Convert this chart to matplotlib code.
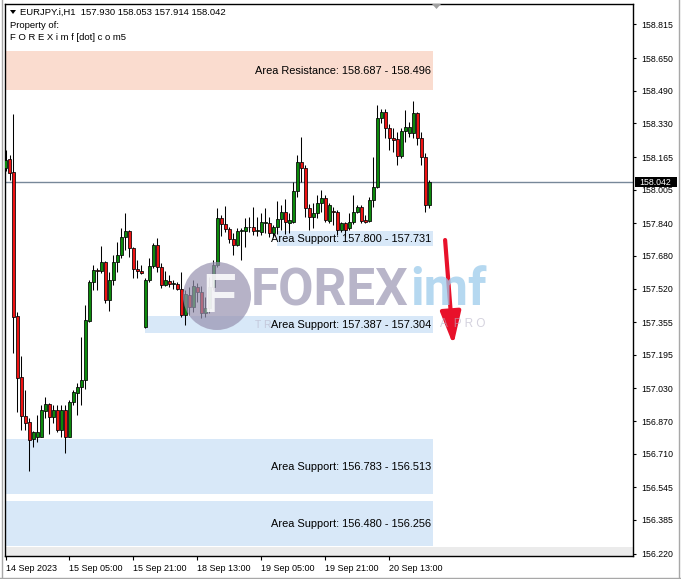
import matplotlib
matplotlib.use("Agg")
import matplotlib.pyplot as plt
from matplotlib.patches import Rectangle, Circle, Polygon
from matplotlib.transforms import Affine2D
import numpy as np

# ---------------- data ----------------
symbol_title = "EURJPY.i,H1  157.930 158.053 157.914 158.042"
prop_line1 = "Property of:"
prop_line2 = "F O R E X i m f [dot] c o m5"

opens = [158.110, 158.154, 158.093, 157.385, 157.088, 156.895, 156.867, 156.781, 156.793, 156.793,
         156.921, 156.954, 156.891, 156.924, 156.826, 156.924, 156.793, 156.965, 157.009, 157.036,
         157.071, 157.362, 157.553, 157.611, 157.608, 157.652, 157.464, 157.562, 157.650, 157.684,
         157.771, 157.802, 157.717, 157.616, 157.607, 157.330, 157.562, 157.630, 157.733, 157.624,
         157.537, 157.559, 157.544, 157.542, 157.516, 157.390, 157.488, 157.428, 157.526, 157.504,
         157.398, 157.423, 157.526, 157.635, 157.864, 157.836, 157.810, 157.763, 157.732, 157.804,
         157.804, 157.820, 157.820, 157.804, 157.799, 157.840, 157.840, 157.791, 157.820, 157.860,
         157.897, 157.840, 157.848, 157.998, 158.142, 158.110, 157.913, 157.869, 157.889, 157.938,
         157.963, 157.851, 157.900, 157.897, 157.807, 157.840, 157.815, 157.845, 157.897, 157.921,
         157.855, 157.851, 157.954, 158.019, 158.358, 158.384, 158.306, 158.260, 158.253, 158.171,
         158.293, 158.281, 158.281, 158.379, 158.257, 158.166, 157.930]
highs = [158.199, 158.175, 158.376, 157.406, 157.189, 157.022, 156.885, 156.823, 156.900, 156.949,
         156.989, 156.957, 156.949, 156.949, 156.949, 156.949, 156.973, 157.022, 157.058, 157.284,
         157.439, 157.562, 157.635, 157.620, 157.729, 157.655, 157.602, 157.684, 157.750, 157.815,
         157.889, 157.805, 157.725, 157.660, 157.635, 157.570, 157.668, 157.745, 157.766, 157.644,
         157.607, 157.586, 157.562, 157.553, 157.602, 157.513, 157.529, 157.562, 157.546, 157.532,
         157.480, 157.578, 157.660, 157.913, 157.881, 157.925, 157.823, 157.791, 157.815, 157.817,
         157.864, 157.869, 157.918, 157.869, 157.889, 157.913, 157.872, 157.831, 157.951, 157.930,
         157.958, 157.889, 158.044, 158.175, 158.265, 158.126, 157.935, 157.938, 157.979, 158.003,
         157.979, 157.938, 157.921, 157.905, 157.845, 157.848, 157.889, 157.979, 157.930, 157.930,
         157.881, 157.970, 158.166, 158.420, 158.400, 158.400, 158.325, 158.306, 158.289, 158.306,
         158.396, 158.335, 158.440, 158.387, 158.289, 158.183, 158.053]
lows = [158.096, 158.052, 157.204, 156.916, 156.826, 156.826, 156.627, 156.744, 156.769, 156.790,
        156.885, 156.806, 156.862, 156.818, 156.792, 156.712, 156.790, 156.949, 156.900, 156.949,
        157.026, 157.357, 157.513, 157.513, 157.595, 157.450, 157.411, 157.537, 157.602, 157.668,
        157.709, 157.676, 157.570, 157.570, 157.591, 157.326, 157.553, 157.619, 157.602, 157.521,
        157.532, 157.529, 157.516, 157.513, 157.382, 157.341, 157.390, 157.406, 157.455, 157.374,
        157.382, 157.398, 157.515, 157.626, 157.778, 157.799, 157.742, 157.684, 157.728, 157.660,
        157.725, 157.799, 157.782, 157.778, 157.782, 157.791, 157.774, 157.774, 157.787, 157.807,
        157.787, 157.791, 157.842, 157.970, 158.044, 157.869, 157.807, 157.815, 157.864, 157.897,
        157.848, 157.840, 157.832, 157.782, 157.799, 157.774, 157.807, 157.835, 157.889, 157.840,
        157.840, 157.848, 157.921, 158.012, 158.330, 158.257, 158.199, 158.188, 158.126, 158.159,
        158.237, 158.262, 158.260, 158.224, 158.126, 157.897, 157.914]
closes = [158.150, 158.088, 157.382, 157.081, 156.895, 156.862, 156.777, 156.816, 156.816, 156.924,
          156.954, 156.891, 156.924, 156.826, 156.924, 156.793, 156.965, 157.011, 157.039, 157.071,
          157.366, 157.553, 157.611, 157.608, 157.652, 157.464, 157.562, 157.650, 157.684, 157.771,
          157.802, 157.717, 157.616, 157.607, 157.598, 157.562, 157.630, 157.733, 157.624, 157.537,
          157.562, 157.541, 157.548, 157.516, 157.390, 157.492, 157.428, 157.532, 157.504, 157.398,
          157.423, 157.526, 157.635, 157.864, 157.836, 157.810, 157.763, 157.732, 157.804, 157.806,
          157.820, 157.822, 157.804, 157.806, 157.846, 157.846, 157.791, 157.823, 157.860, 157.897,
          157.848, 157.856, 157.998, 158.142, 158.110, 157.913, 157.869, 157.889, 157.938, 157.963,
          157.856, 157.930, 157.894, 157.807, 157.840, 157.807, 157.848, 157.897, 157.921, 157.851,
          157.848, 157.954, 158.019, 158.358, 158.384, 158.306, 158.257, 158.248, 158.171, 158.293,
          158.314, 158.314, 158.379, 158.257, 158.166, 157.930, 158.042]

time_tick_bars = [0, 16, 32, 48, 64, 80, 96]
time_tick_labels = ["14 Sep 2023", "15 Sep 05:00", "15 Sep 21:00", "18 Sep 13:00",
                    "19 Sep 05:00", "19 Sep 21:00", "20 Sep 13:00"]
price_tick_labels = ["158.815", "158.650", "158.490", "158.330", "158.165", "158.005",
                     "157.840", "157.680", "157.520", "157.355", "157.195", "157.030",
                     "156.870", "156.710", "156.545", "156.385", "156.220"]

zone_names = ["Area Resistance", "Area Support", "Area Support", "Area Support", "Area Support"]
zone_top = [158.687, 157.800, 157.387, 156.783, 156.480]
zone_bottom = [158.496, 157.731, 157.304, 156.513, 156.256]
current_price = 158.042

# ---------------- layout / style ----------------
W, H = 681, 579
XMIN, XMAX = -0.2, 156.95
YMIN, YMAX = 156.2083, 158.9155
zone_left = [XMIN, 67.8, 34.9, XMIN, XMIN]
zone_right = 106.9
zone_colors = ["#FADCCF", "#D8E8F8", "#D8E8F8", "#D8E8F8", "#D8E8F8"]
GREEN = "#0B8A0B"
RED = "#EE1212"
FONT = "Liberation Sans"

plt.rcParams["font.family"] = [FONT, "DejaVu Sans"]

fig = plt.figure(figsize=(W / 100, H / 100), dpi=100)
fig.patch.set_facecolor("white")
ax = fig.add_axes([4.7 / W, 1 - 556 / H, (633.3 - 4.7) / W, (556 - 4) / H])
ax.set_xlim(XMIN, XMAX)
ax.set_ylim(YMIN, YMAX)
px = Affine2D().scale(1 / W, -1 / H).translate(0, 1) + fig.transFigure

# zones
for name, top, bot, left, col in zip(zone_names, zone_top, zone_bottom, zone_left, zone_colors):
    ax.add_patch(Rectangle((left, bot), zone_right - left, top - bot,
                           facecolor=col, edgecolor="none", zorder=1))
    ax.text(zone_right - 0.5, (top + bot) / 2 - 0.004, f"{name}: {top:.3f} - {bot:.3f}",
            ha="right", va="center", fontsize=7.9, color="black", zorder=8)

# bottom grey strip
ax.axhspan(YMIN, 156.250, color="#EBEBEB", lw=0, zorder=1)

# current price line
ax.axhline(current_price, color="#778899", lw=1.0, zorder=2)

# candles
o = np.array(opens); h = np.array(highs); l = np.array(lows); c = np.array(closes)
x = np.arange(len(o))
up = c >= o
ax.vlines(x, l, h, color="black", lw=0.75, zorder=3)
body_bottom = np.minimum(o, c)
body_h = np.maximum(np.abs(c - o), 0.0005)
ax.bar(x, body_h, bottom=body_bottom, width=0.72,
       color=np.where(up, GREEN, RED), edgecolor="black", linewidth=0.55, zorder=4)

# watermark (semi-transparent, over the candles)
WM = "#9792B0"
fig.patches.append(Circle((217, 296), 34, transform=px, facecolor=WM,
                          edgecolor="none", alpha=0.7, zorder=5))
fig.text(219, 298, "F", transform=px, fontsize=40, fontweight="bold", color="white",
         ha="center", va="center", alpha=0.85, zorder=5)
fig.text(251, 291, "FOREX", transform=px, fontsize=37, fontweight="bold", color=WM,
         ha="left", va="center", alpha=0.68, family="Roboto", zorder=5)
fig.text(410, 291, "imf", transform=px, fontsize=37, fontweight="bold", color="#9CCBEB",
         ha="left", va="center", alpha=0.75, family="Roboto", zorder=5)
fig.text(255, 325, "T R", transform=px, fontsize=7.5,
         color="#B8B4C8", ha="left", va="center", alpha=0.6, zorder=5)
fig.text(440, 324, "A  P R O", transform=px, fontsize=8.5,
         color="#B8B4C8", ha="left", va="center", alpha=0.6, zorder=5)

# arrow
ax.annotate("", xy=(111.95, 157.243), xytext=(109.9, 157.758),
            arrowprops=dict(arrowstyle="-|>,head_length=0.8,head_width=0.25",
                            color="#E8112A", lw=3.0, mutation_scale=25,
                            shrinkA=0, shrinkB=0), zorder=7)

# axes styling
for s in ax.spines.values():
    s.set_color("black")
    s.set_linewidth(1.0)
ax.yaxis.tick_right()
ax.set_yticks([float(v) for v in price_tick_labels])
ax.set_yticklabels(price_tick_labels)
ax.tick_params(axis="y", direction="out", length=2.5, width=0.8, pad=3,
               labelsize=6.3, colors="black")
ax.set_xticks(time_tick_bars)
ax.set_xticklabels(time_tick_labels)
ax.tick_params(axis="x", direction="out", length=3, width=0.8, pad=3, labelsize=6.5,
               colors="black")
for lab in ax.get_xticklabels():
    lab.set_horizontalalignment("left")

# current price tag
y_tag = ax.transData.transform((0, current_price))[1]
tag_y_px = H - y_tag
fig.patches.append(Rectangle((634.5, tag_y_px - 4.8), 42, 9.6, transform=px,
                             facecolor="black", edgecolor="none", zorder=10))
fig.text(639, tag_y_px + 0.3, f"{current_price:.3f}", transform=px, color="white",
         fontsize=6.3, ha="left", va="center", zorder=11)

# header
fig.patches.append(Polygon([(10, 10), (16, 10), (13, 14)], closed=True, transform=px,
                           facecolor="black", edgecolor="none"))
fig.text(20, 12.5, symbol_title, transform=px, fontsize=6.8, ha="left", va="center")
fig.text(9.5, 25.5, prop_line1, transform=px, fontsize=6.8, ha="left", va="center")
fig.text(9.5, 37.5, prop_line2, transform=px, fontsize=6.8, ha="left", va="center")

# chart shift marker
fig.patches.append(Polygon([(432, 4), (441, 4), (436.5, 9)], closed=True, transform=px,
                           facecolor="#A0A0A0", edgecolor="none"))

# window border
for (x0, y0, x1, y1) in [(1.5, 0, 1.5, 578), (678.5, 0, 678.5, 578), (0, 577.5, 681, 577.5)]:
    fig.add_artist(plt.Line2D([x0, x1], [y0, y1], transform=px, color="#A8A8A8", lw=1))

fig.savefig("out.png", dpi=100)
